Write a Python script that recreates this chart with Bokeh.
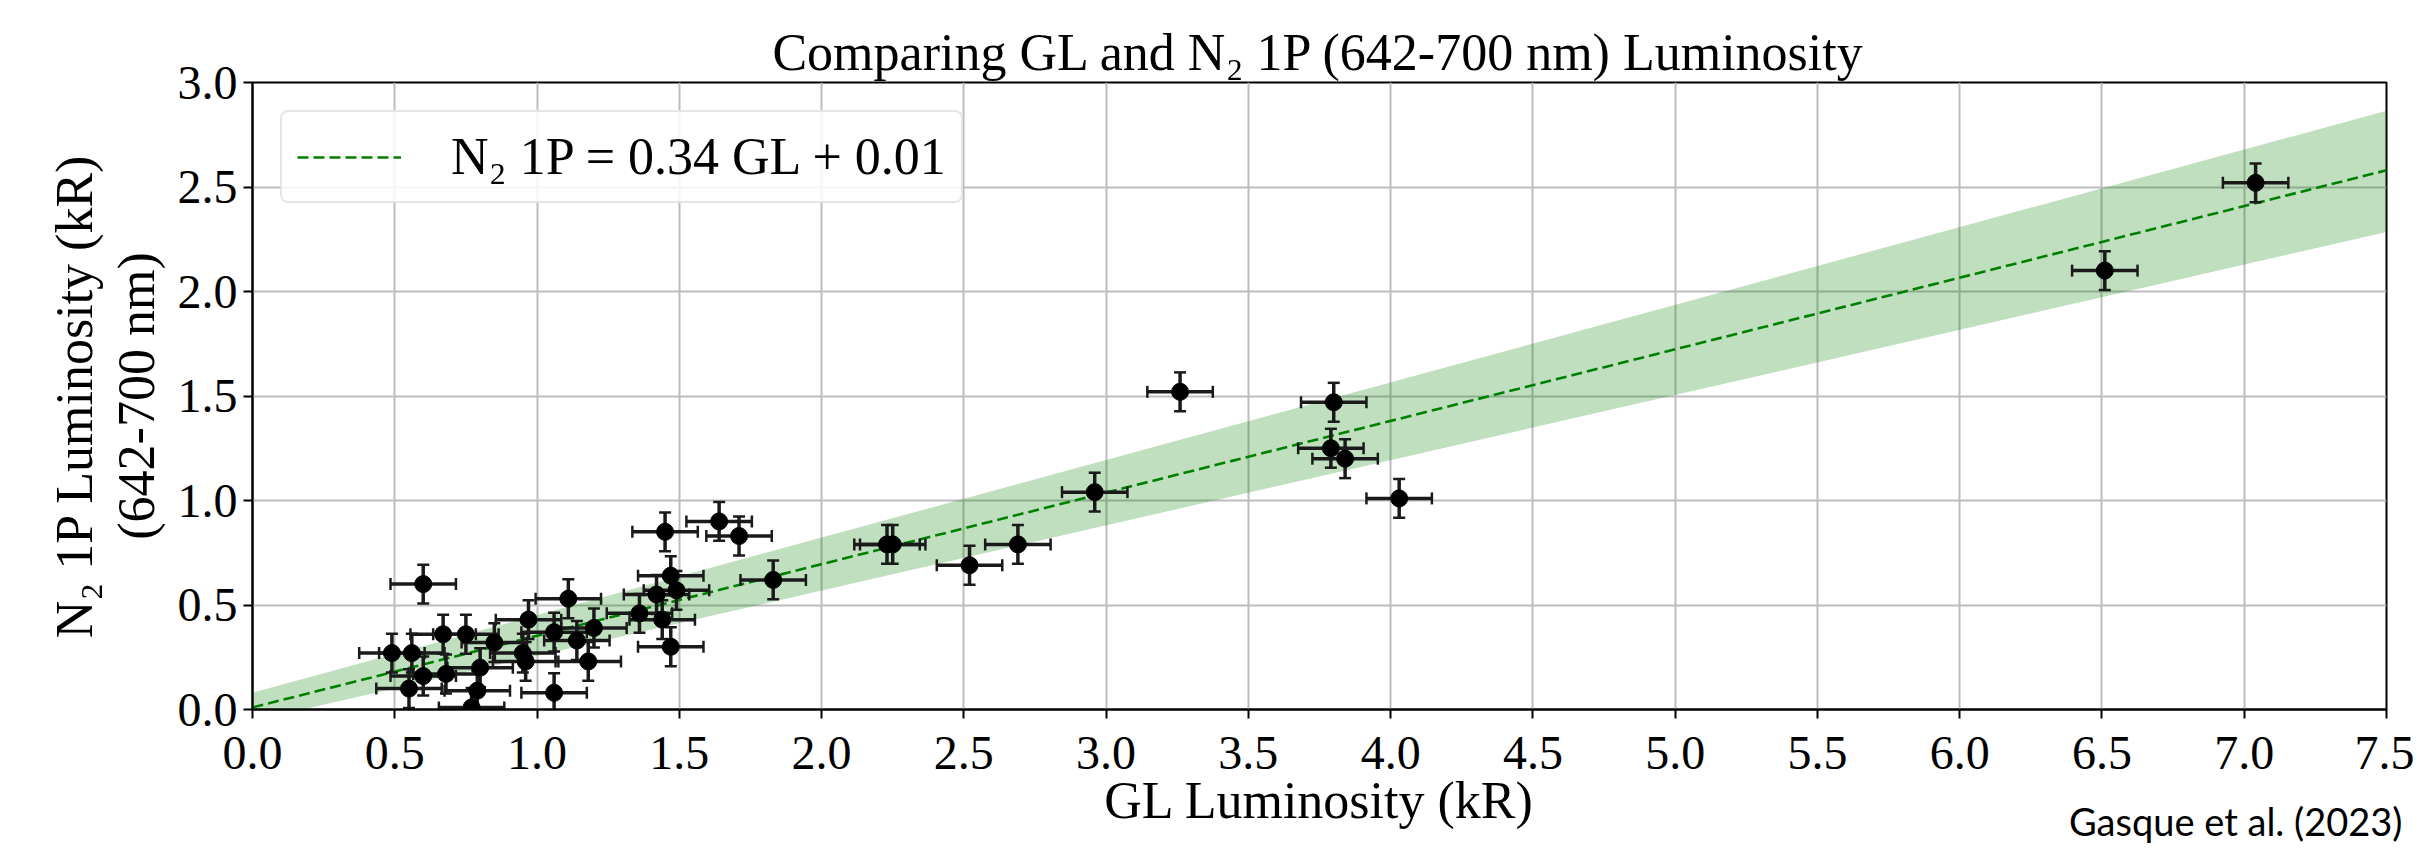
import numpy as np
from bokeh.plotting import figure
from bokeh.models import FixedTicker, Title, ColumnDataSource
from bokeh.embed import file_html
from bokeh.resources import INLINE

# ---- data ----
gl_lum = [0.49, 0.56, 0.55, 0.60, 0.60, 0.67, 0.68, 0.75, 0.77, 0.79,
          0.80, 0.85, 0.95, 0.96, 0.97, 1.06, 1.06, 1.11, 1.14, 1.18,
          1.20, 1.36, 1.42, 1.44, 1.45, 1.47, 1.49, 1.47, 1.64, 1.71,
          1.83, 2.23, 2.25, 2.52, 2.69, 2.96, 3.26, 3.80, 3.79, 3.84,
          4.03, 6.51, 7.04]
n2_lum = [0.27, 0.27, 0.10, 0.60, 0.16, 0.36, 0.17, 0.36, 0.01, 0.09,
          0.20, 0.32, 0.27, 0.23, 0.43, 0.37, 0.08, 0.53, 0.33, 0.23,
          0.39, 0.46, 0.55, 0.43, 0.85, 0.64, 0.57, 0.30, 0.90, 0.83,
          0.62, 0.79, 0.79, 0.69, 0.79, 1.04, 1.52, 1.47, 1.25, 1.20,
          1.01, 2.10, 2.52]
gl_err = 0.115
n2_err = 0.093

fit_x = [0.0, 7.5]
fit_y = [0.01, 2.58]
band_lower = [-0.055, 2.285]
band_upper = [0.08, 2.865]

x_ticks = [0.0, 0.5, 1.0, 1.5, 2.0, 2.5, 3.0, 3.5, 4.0, 4.5, 5.0, 5.5, 6.0, 6.5, 7.0, 7.5]
x_tick_labels = ["0.0", "0.5", "1.0", "1.5", "2.0", "2.5", "3.0", "3.5", "4.0", "4.5",
                 "5.0", "5.5", "6.0", "6.5", "7.0", "7.5"]
y_ticks = [0.0, 0.5, 1.0, 1.5, 2.0, 2.5, 3.0]
y_tick_labels = ["0.0", "0.5", "1.0", "1.5", "2.0", "2.5", "3.0"]

title_text = "Comparing GL and N\u2082 1P (642-700 nm) Luminosity"
x_label = "GL Luminosity (kR)"
y_label = "N\u2082 1P Luminosity (kR)\n(642-700 nm)"
legend_text = "N\u2082 1P = 0.34 GL + 0.01"
credit_text = "Gasque et al. (2023)"

SERIF = "Liberation Serif"

# ---- figure ----
p = figure(frame_width=2134, frame_height=627,
           x_range=(0, 7.5), y_range=(0, 3),
           output_backend="svg", toolbar_location=None,
           min_border_left=252, min_border_right=28,
           min_border_top=82, min_border_bottom=142,
           background_fill_color="white", border_fill_color="white")

p.title.text = title_text
p.title.align = "center"
p.title.text_font = SERIF
p.title.text_font_style = "normal"
p.title.text_font_size = "52px"
p.title.text_color = "black"
p.title.standoff = 4

p.outline_line_color = "black"
p.outline_line_width = 2
p.outline_line_alpha = 1.0

p.grid.grid_line_color = "#bdbdbd"
p.grid.grid_line_width = 2

p.xaxis.ticker = FixedTicker(ticks=x_ticks)
p.yaxis.ticker = FixedTicker(ticks=y_ticks)
p.xaxis.major_label_overrides = dict(zip(x_ticks, x_tick_labels))
p.yaxis.major_label_overrides = dict(zip(y_ticks, y_tick_labels))

for ax in (p.xaxis, p.yaxis):
    ax.axis_line_width = 2
    ax.axis_line_color = "black"
    ax.major_tick_line_width = 2
    ax.major_tick_line_color = "black"
    ax.major_tick_out = 9
    ax.major_tick_in = 0
    ax.minor_tick_line_color = None
    ax.major_label_text_font = SERIF
    ax.major_label_text_font_size = "48px"
    ax.major_label_text_color = "black"
    ax.axis_label_text_font = SERIF
    ax.axis_label_text_font_style = "normal"
    ax.axis_label_text_font_size = "52px"
    ax.axis_label_text_color = "black"

p.xaxis.major_label_standoff = 18
p.yaxis.major_label_standoff = 6
p.xaxis.axis_label = x_label
p.xaxis.axis_label_standoff = 0
p.yaxis.axis_label = y_label
p.yaxis.axis_label_standoff = 10
p.yaxis.axis_label_text_line_height = 1.08

# ---- glyphs ----
p.varea(x=fit_x, y1=band_lower, y2=band_upper, fill_color="green", fill_alpha=0.25)
fit = p.line(fit_x, fit_y, line_color="green", line_width=2.6, line_dash="11 5",
             legend_label=legend_text)

gx = np.array(gl_lum)
ny = np.array(n2_lum)
src = ColumnDataSource(dict(x=gx, y=ny,
                            xl=gx - gl_err, xu=gx + gl_err,
                            yl=ny - n2_err, yu=ny + n2_err))
ebc = "#1a1a1a"
p.segment(x0="xl", y0="y", x1="xu", y1="y", source=src, line_color=ebc, line_width=3.5)
p.segment(x0="x", y0="yl", x1="x", y1="yu", source=src, line_color=ebc, line_width=3.5)
# caps
for cx, cy, ang in (("xl", "y", np.pi / 2), ("xu", "y", np.pi / 2),
                    ("x", "yl", 0.0), ("x", "yu", 0.0)):
    p.scatter(x=cx, y=cy, source=src, marker="dash", size=12, angle=ang,
              line_color=ebc, line_width=2.5)
p.scatter(x="x", y="y", source=src, marker="circle", size=17,
          fill_color="black", line_color="black")

# ---- legend ----
lg = p.legend[0]
lg.location = "top_left"
lg.margin = 28
lg.padding = 15
lg.spacing = 0
lg.glyph_width = 104
lg.glyph_height = 40
lg.label_standoff = 50
lg.label_text_font = SERIF
lg.label_text_font_size = "52px"
lg.label_text_color = "black"
lg.border_line_color = "#cccccc"
lg.border_line_width = 2
lg.background_fill_color = "white"
lg.background_fill_alpha = 0.85
if "border_radius" in lg.properties():
    lg.border_radius = 8

# ---- credit (below the plot, right aligned) ----
credit = Title(text=credit_text, align="right", vertical_align="top",
               text_font="Lato", text_font_style="normal",
               text_font_size="38px", text_color="black",
               standoff=-68, offset=-16)
p.add_layout(credit, "below")

open("out.html", "w").write(file_html(p, INLINE))
